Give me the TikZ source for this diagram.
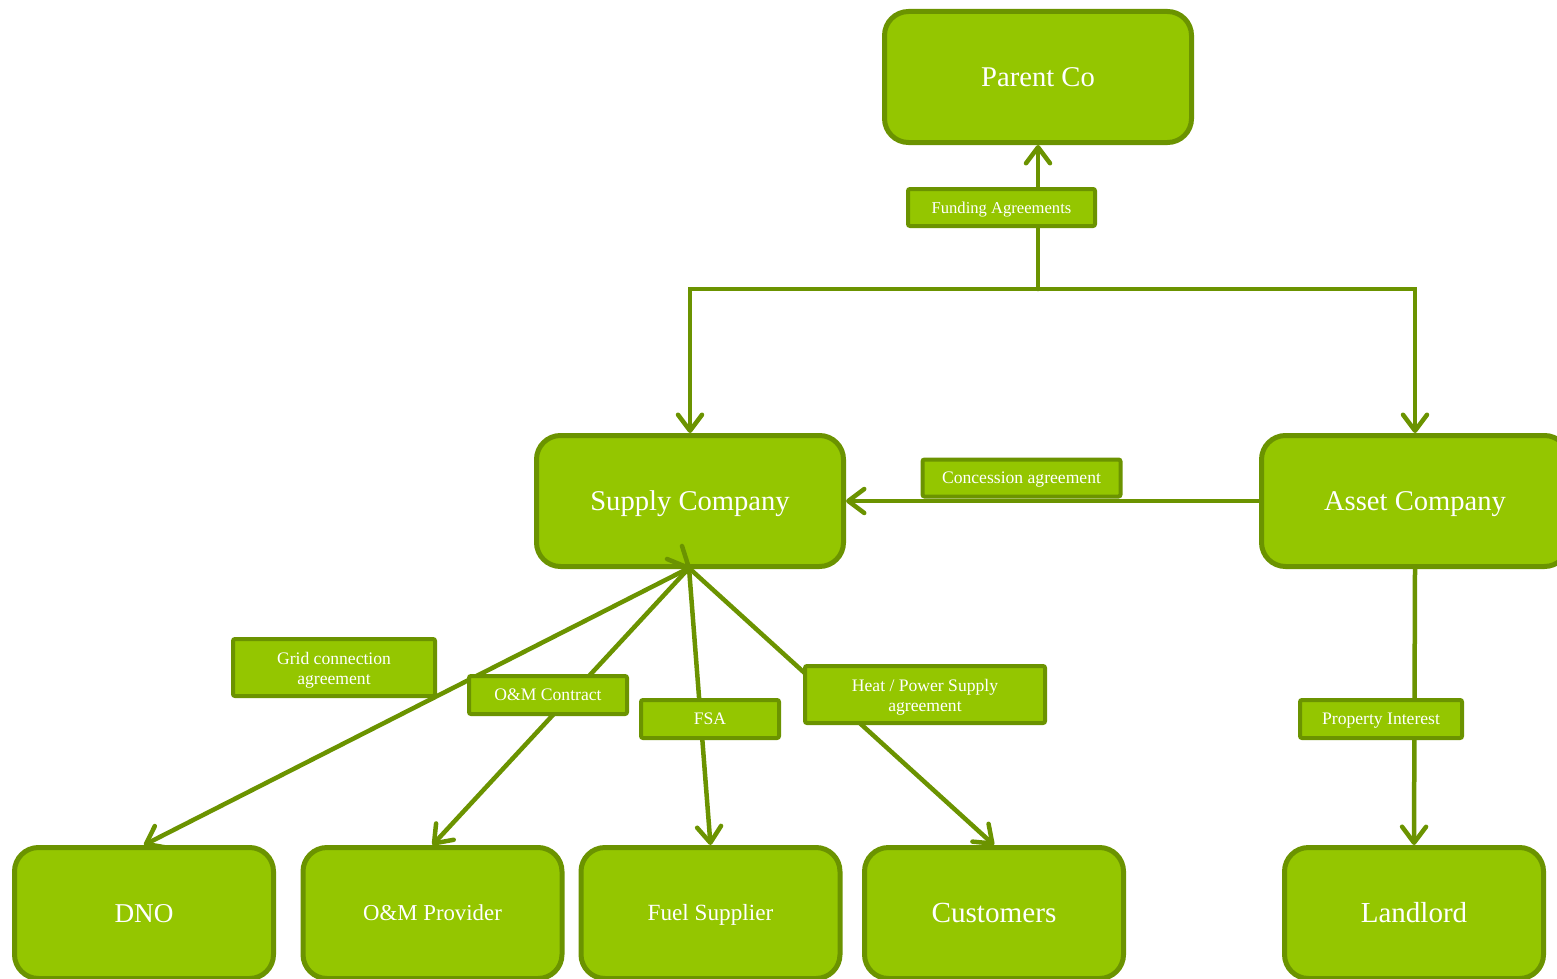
\documentclass[tikz,border=0pt]{standalone}
\usepackage{fontspec}
\setmainfont{Liberation Serif}
\usetikzlibrary{arrows.meta}
\definecolor{boxfill}{HTML}{94C600}
\definecolor{boxline}{HTML}{6B9300}
\begin{document}
\begin{tikzpicture}[x=0.5pt,y=-0.5pt,
  entity/.style={draw=boxline, fill=boxfill, line width=2.5pt, rounded corners=12pt,
    minimum width=153.5pt, minimum height=65.5pt, inner sep=0pt, text=white,
    font=\fontsize{14.3}{17}\selectfont, text height=9.5pt, text depth=0pt},
  small entity/.style={entity, minimum width=129.5pt},
  tag/.style={draw=boxline, fill=boxfill, line width=2pt, rounded corners=1pt,
    inner sep=0pt, text=white, align=center, font=\fontsize{8.8}{10}\selectfont},
  onetag/.style={tag, text height=5.8pt, text depth=0pt},
  tagtext/.style={inner sep=0pt, text=white, align=center, font=\fontsize{8.8}{10}\selectfont},
  link/.style={draw=boxline, line width=2.25pt, line cap=round, line join=round},
  arr/.style={link, -{Straight Barb[length=8pt,width=12pt,round]}}]
\useasboundingbox (0,0) rectangle (1557,979);
\clip (0,0) rectangle (1557,979);
% entities
\node[entity] (parent) at (1038,77) {Parent Co};
\node[entity] (supply) at (690,501) {Supply Company};
\node[entity] (asset) at (1415,501) {Asset Company};
\node[small entity, font=\fontsize{13.6}{16}\selectfont, text height=9pt] (dno) at (144,913) {DNO};
\node[small entity, font=\fontsize{11.4}{14}\selectfont, text height=7.5pt] (omp) at (432.5,913) {O\&M Provider};
\node[small entity, font=\fontsize{11.6}{14}\selectfont, text height=7.7pt] (fuel) at (710.5,913) {Fuel Supplier};
\node[small entity, font=\fontsize{14.6}{17}\selectfont, text height=9.7pt] (cust) at (994,913) {Customers};
\node[small entity, font=\fontsize{14.5}{17}\selectfont, text height=9.6pt] (land) at (1414,913) {Landlord};
% connectors
\coordinate (split) at (1038,289);
\coordinate (fan) at (689,568);
\coordinate (barbA) at (682,546);
\coordinate (barbB) at (667,559);
\draw[arr] (split) -- (parent.south);
\draw[arr, line join=miter] (split) -| (supply.north);
\draw[arr, line join=miter] (split) -| (asset.north);
\draw[arr] (asset.west) -- (supply.east);
\draw[arr] (asset.south) -- (land.north);
\draw[arr] (fan) -- (dno.north);
\draw[arr] (fan) -- (omp.north);
\draw[arr] (fan) -- (fuel.north);
\draw[arr] (fan) -- (cust.north);
\draw[link] (barbA) -- (fan) -- (barbB);
% labels
\node[onetag, minimum width=93.5pt, minimum height=18.5pt, font=\fontsize{8.3}{10}\selectfont, text height=5.5pt] (fundlbl) at (1001.5,207.5) {Funding Agreements};
\node[onetag, minimum width=99pt, minimum height=18.5pt] (conclbl) at (1021.5,478) {Concession agreement};
\node[tag, minimum width=101pt, minimum height=28.5pt,
  label={[tagtext, yshift=-1.5pt]center:Grid connection\\agreement}] (gridlbl) at (334,667.5) {};
\node[onetag, minimum width=79pt, minimum height=19pt] (omlbl) at (548,695) {O\&M Contract};
\node[onetag, minimum width=69pt, minimum height=19pt] (fsalbl) at (710,719) {FSA};
\node[tag, minimum width=120pt, minimum height=28.5pt,
  label={[tagtext, yshift=-1.5pt]center:Heat / Power Supply\\agreement}] (heatlbl) at (925,694.5) {};
\node[onetag, minimum width=81pt, minimum height=19pt] (proplbl) at (1381,719) {Property Interest};
\end{tikzpicture}
\end{document}
